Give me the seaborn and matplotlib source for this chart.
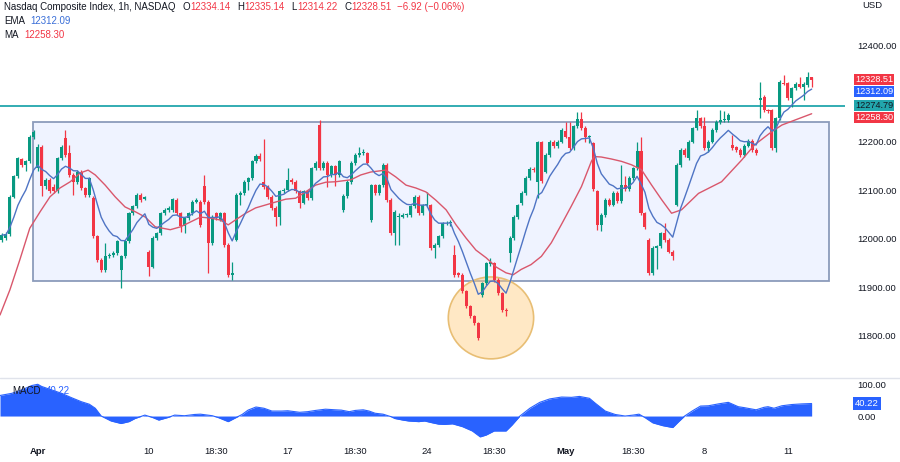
import numpy as np
import pandas as pd
import seaborn as sns
import matplotlib.pyplot as plt
from matplotlib.patches import Rectangle, Ellipse
from matplotlib.lines import Line2D
import matplotlib.transforms as mtransforms

# ----------------------
# Hourly candles, one row per bar
# ----------------------
opens = [
    11998, 12001, 12010, 12087, 12129, 12164, 12153, 12160, 12211, 12146,
    12190, 12109, 12122, 12108, 12098, 12166, 12208, 12177, 12132, 12118,
    12139, 12105, 12091, 12084, 12005, 11957, 11936, 11964, 11967, 11971,
    11936, 11964, 11995, 12053, 12067, 12091, 12083, 11974, 11943, 12001,
    12012, 12053, 12060, 12060, 12080, 12053, 12026, 12043, 12053, 12077,
    12077, 12109, 12077, 11991, 12053, 12040, 12053, 11988, 11926, 11998,
    12091, 12094, 12118, 12125, 12160, 12171, 12118, 12108, 12087, 12063,
    12046, 12098, 12101, 12122, 12118, 12098, 12075, 12098, 12084, 12146,
    12235, 12146, 12157, 12132, 12150, 12132, 12060, 12089, 12118, 12156,
    12173, 12177, 12177, 12039, 12111, 12094, 12111, 12153, 12081, 12012,
    12046, 12046, 12049, 12050, 12067, 12087, 12053, 12070, 12070, 11981,
    11988, 12005, 12032, 12032, 11967, 11929, 11926, 11892, 11861, 11840,
    11826, 11885, 11909, 11948, 11950, 11916, 11888, 11854, 11971, 12001,
    12046, 12074, 12095, 12126, 12144, 12117, 12199, 12139, 12174, 12201,
    12191, 12201, 12222, 12211, 12187, 12232, 12247, 12229, 12211, 12198,
    12098, 12029, 12050, 12081, 12071, 12095, 12078, 12112, 12102, 12126,
    12146, 12181, 12053, 11998, 11930, 11981, 11985, 12012, 11998, 11974,
    12071, 12153, 12184, 12166, 12201, 12228, 12249, 12232, 12187, 12201,
    12225, 12242, 12245, 12246, 12194, 12189, 12184, 12173, 12192, 12203,
    12184, 12287, 12293, 12266, 12266, 12187, 12249, 12322, 12321, 12290,
    12311, 12320, 12314, 12317, 12334.14,
]
closes = [
    12008, 12010, 12087, 12129, 12166, 12153, 12160, 12211, 12221, 12190,
    12109, 12122, 12098, 12098, 12166, 12190, 12173, 12132, 12118, 12139,
    12105, 12091, 12125, 12005, 11957, 11936, 11964, 11967, 11971, 11995,
    11964, 11995, 12053, 12067, 12091, 12081, 12086, 11943, 12001, 12012,
    12053, 12060, 12063, 12082, 12053, 12026, 12043, 12053, 12077, 12081,
    12029, 12077, 11991, 12046, 12043, 12053, 11988, 11926, 11929, 12091,
    12094, 12118, 12125, 12160, 12171, 12164, 12108, 12087, 12063, 12046,
    12098, 12101, 12122, 12118, 12098, 12075, 12098, 12084, 12146, 12156,
    12146, 12156, 12132, 12150, 12132, 12160, 12089, 12118, 12156, 12173,
    12177, 12180, 12156, 12111, 12094, 12111, 12153, 12081, 12012, 12056,
    12047, 12049, 12050, 12067, 12087, 12053, 12070, 12071, 11981, 11988,
    12005, 12032, 12033, 12035, 11926, 11926, 11892, 11861, 11840, 11826,
    11795, 11909, 11950, 11953, 11916, 11888, 11854, 11851, 12001, 12046,
    12070, 12095, 12126, 12144, 12142, 12199, 12119, 12174, 12201, 12191,
    12201, 12225, 12211, 12187, 12232, 12247, 12229, 12211, 12212, 12102,
    12029, 12050, 12081, 12071, 12095, 12078, 12112, 12102, 12126, 12146,
    12181, 12053, 12025, 11930, 11981, 11985, 12012, 11998, 11974, 11964,
    12153, 12184, 12174, 12201, 12228, 12249, 12232, 12187, 12201, 12225,
    12242, 12245, 12246, 12256, 12187, 12184, 12173, 12192, 12203, 12184,
    12178, 12290, 12266, 12263, 12187, 12249, 12324, 12320, 12290, 12311,
    12320, 12314, 12320, 12335, 12328.51,
]
highs = [
    12012, 12014, 12090, 12132, 12170, 12167, 12163, 12214, 12225, 12195,
    12194, 12126, 12125, 12113, 12169, 12194, 12225, 12194, 12135, 12142,
    12142, 12108, 12128, 12088, 12008, 11960, 11991, 11971, 11975, 11998,
    11967, 11998, 12056, 12070, 12094, 12094, 12089, 11977, 12005, 12015,
    12056, 12063, 12067, 12084, 12084, 12056, 12046, 12056, 12080, 12084,
    12080, 12132, 12080, 12050, 12056, 12056, 12056, 11991, 11953, 12094,
    12098, 12121, 12128, 12163, 12175, 12177, 12206, 12111, 12091, 12067,
    12101, 12105, 12146, 12125, 12122, 12101, 12101, 12101, 12149, 12160,
    12245, 12160, 12160, 12153, 12153, 12163, 12092, 12121, 12160, 12177,
    12190, 12186, 12180, 12114, 12114, 12114, 12156, 12156, 12084, 12060,
    12053, 12053, 12053, 12070, 12091, 12091, 12073, 12096, 12073, 11991,
    12008, 12035, 12036, 12039, 11988, 11932, 11929, 11895, 11864, 11843,
    11829, 11912, 11953, 11960, 11953, 11919, 11891, 11857, 12005, 12049,
    12073, 12098, 12129, 12148, 12148, 12202, 12203, 12177, 12205, 12204,
    12204, 12229, 12242, 12242, 12235, 12261, 12261, 12232, 12215, 12201,
    12101, 12053, 12084, 12084, 12098, 12098, 12153, 12129, 12129, 12149,
    12201, 12211, 12056, 12001, 11985, 11988, 12015, 12033, 12001, 11977,
    12156, 12187, 12187, 12204, 12231, 12266, 12252, 12252, 12204, 12228,
    12245, 12266, 12263, 12259, 12214, 12192, 12187, 12195, 12206, 12206,
    12187, 12324, 12296, 12269, 12269, 12252, 12327, 12338, 12324, 12314,
    12323, 12335, 12323, 12345, 12335.14,
]
lows = [
    11994, 11997, 12006, 12084, 12125, 12148, 12140, 12156, 12207, 12140,
    12089, 12103, 12094, 12095, 12095, 12162, 12170, 12128, 12091, 12114,
    12101, 12087, 12087, 12001, 11953, 11932, 11932, 11960, 11963, 11967,
    11898, 11960, 11991, 12049, 12063, 12077, 12080, 11923, 11940, 11998,
    12008, 12049, 12056, 12056, 12049, 12015, 12012, 12039, 12049, 12074,
    12025, 12073, 11929, 11988, 12039, 12036, 11984, 11922, 11916, 11995,
    12070, 12090, 12101, 12121, 12156, 12160, 12104, 12083, 12060, 12026,
    12029, 12094, 12098, 12114, 12094, 12063, 12072, 12080, 12080, 12142,
    12142, 12142, 12108, 12128, 12109, 12128, 12056, 12085, 12114, 12153,
    12170, 12173, 12153, 12035, 12090, 12090, 12108, 12077, 12008, 11988,
    11988, 12043, 12046, 12046, 12063, 12049, 12049, 12066, 11977, 11960,
    11984, 12001, 12028, 12026, 11922, 11922, 11888, 11857, 11836, 11822,
    11791, 11881, 11905, 11944, 11912, 11884, 11850, 11840, 11953, 11997,
    12042, 12070, 12091, 12122, 12139, 12084, 12115, 12135, 12170, 12187,
    12187, 12197, 12208, 12183, 12183, 12228, 12225, 12199, 12198, 12098,
    12019, 12016, 12046, 12067, 12067, 12074, 12074, 12098, 12098, 12122,
    12142, 12049, 12021, 11926, 11926, 11937, 11981, 11994, 11970, 11957,
    12067, 12149, 12170, 12162, 12197, 12225, 12228, 12183, 12180, 12197,
    12221, 12238, 12241, 12242, 12183, 12180, 12170, 12170, 12189, 12180,
    12174, 12249, 12262, 12259, 12183, 12180, 12245, 12317, 12287, 12273,
    12307, 12311, 12287, 12313, 12314.22,
]

# MA (bar index, value)
ma_bar = [-0.5, 2, 4.5, 7, 9.6, 12.1, 14.6, 17.2, 19.7, 21.7, 23.5, 26, 28.5, 31, 33.6,
          36.1, 38.6, 42.4, 45, 47.5, 50, 52.5, 55, 57, 58.8, 61.4, 63.9, 66.4, 68.9,
          71.5, 74, 76.5, 79, 81.6, 84.1, 87.9, 90.4, 92.9, 96.7, 99.2, 101.8, 104.3,
          106.8, 109.3, 111.9, 114.4, 116.9, 119.4, 122, 124.5, 127, 128.8, 130.8,
          133.3, 135.9, 138.4, 140.9, 143.4, 146, 148.5, 149.2, 151, 153.5, 156.1,
          158.6, 161.1, 163.6, 166.2, 168.7, 171.2, 175.5, 181.3, 186.4, 189.6,
          193.9, 196.5, 199.7, 204]
ma_val = [11843, 11895, 11957, 12022, 12056, 12087, 12105, 12118, 12136, 12142, 12132,
          12111, 12087, 12066, 12056, 12045, 12025, 12019, 12025, 12035, 12045, 12043,
          12039, 12029, 12039, 12053, 12064, 12070, 12076, 12082, 12084, 12097, 12111,
          12117, 12118, 12122, 12132, 12138, 12142, 12128, 12111, 12105, 12097, 12080,
          12060, 12029, 12002, 11977, 11961, 11942, 11930, 11926, 11937, 11947, 11964,
          11992, 12029, 12067, 12108, 12160, 12170, 12169, 12165, 12160, 12153, 12143,
          12112, 12081, 12053, 12060, 12094, 12118, 12163, 12194, 12221, 12235, 12245,
          12258.30]

# MACD (bar index, value)
macd_bar = [-0.5, 2.5, 5, 7.5, 9, 10, 12.5, 15, 17.5, 20, 22, 23.5, 25, 27.5, 30, 32,
            33.5, 36, 38, 39.5, 42, 43.5, 46, 48.5, 50, 53, 54.5, 57, 58.5, 60.5, 62,
            64, 66, 68, 70.5, 72, 75, 77, 79, 81.5, 84, 85.5, 87.5, 89, 91, 92.5, 94,
            96, 98, 99, 101, 102.5, 105, 106.5, 108.5, 110, 111.5, 113.5, 116, 118.5,
            120.5, 122, 124, 127, 128.5, 130.5, 133, 135.5, 138, 141, 143.5, 145.5,
            148, 149.5, 152, 154.5, 157, 159, 160.5, 162, 164, 166.5, 169, 170.5, 172,
            174, 176, 178, 180.5, 183, 185.5, 187, 190, 192, 193, 194.5, 196.5, 199,
            201.5, 204]
macd_val = [66, 73, 84, 98, 102, 95, 84, 73, 59, 46, 38, 25, 0, -16, -24, -18, -8, 3, -5,
            -13, -4, 3, 1, 5, 6, 1, -5, -18, -8, 5, 19, 29, 25, 16, 16, 17, 12, 14, 18,
            22, 20, 19, 14, 18, 20, 16, 9, 6, -2, -8, -13, -16, -18, -16, -22, -26, -27,
            -25, -34, -48, -67, -61, -48, -48, -29, 0, 25, 44, 55, 61, 60, 63, 57, 41,
            16, 5, 0, 3, 6, -5, -22, -31, -37, -18, 0, 17, 32, 33, 39, 44, 30, 27, 20,
            28, 30, 25, 33, 37, 39, 40.22]

tick_bars = [9, 37, 54, 72, 89, 107, 124, 142, 159, 177, 198]
tick_labels = ["Apr", "10", "18:30", "17", "18:30", "24", "18:30", "May", "18:30", "8", "11"]
price_ticks = [11800, 11900, 12000, 12100, 12200, 12400]  # 12300 sits under the tags

last_close = 12328.51
ema_last = 12312.09
ma_last = 12258.30
level = 12274.79
macd_last = 40.22

# colours
GREEN = "#089981"
RED = "#F23645"
BLUE = "#2962FF"
TEAL = "#22A6AD"
DARK = "#131722"

# ----------------------
# Build frame
# ----------------------
df = pd.DataFrame({"open": opens, "high": highs, "low": lows, "close": closes})
df["bar"] = np.arange(len(df))
df["ema"] = df["close"].ewm(span=9, adjust=False).mean()
up = df["close"] >= df["open"]
cols = np.where(up, GREEN, RED)

sns.set_theme(style="white")
plt.rcParams["font.family"] = ["Liberation Sans", "DejaVu Sans"]

W, H = 900, 462
fig = plt.figure(figsize=(9, 4.62), dpi=100)
ax = fig.add_axes([0, 1 - 378 / H, 845 / W, 378 / H])
axm = fig.add_axes([0, 22 / H, 845 / W, 61 / H], sharex=ax)

# ----------------------
# Price pane
# ----------------------
ax.add_patch(Rectangle((7.8, 11913), 208.3 - 7.8, 12241 - 11913,
                       facecolor=(0.16, 0.38, 1.0, 0.07),
                       edgecolor=(0.50, 0.57, 0.70, 0.9), lw=1.3, zorder=1))
ax.add_patch(Ellipse((123.2, 11837), 21.5, 169,
                     facecolor=(1.0, 0.80, 0.50, 0.45),
                     edgecolor="#E8BE74", lw=1.2, zorder=2))
ax.axhline(level, color=TEAL, lw=1.3, zorder=2)

ax.vlines(df["bar"], df["low"], df["high"], colors=cols, lw=0.9, zorder=3)
body = (df["close"] - df["open"]).abs().clip(lower=1.5)
ax.bar(df["bar"], body, bottom=df[["open", "close"]].min(axis=1), width=0.76,
       color=cols, linewidth=0, zorder=4)

sns.lineplot(x=ma_bar, y=ma_val, ax=ax, color="#D9576C", lw=1.0, zorder=5)
sns.lineplot(x=df["bar"], y=df["ema"], ax=ax, color="#4F74C4", lw=1.0, zorder=6)

ax.set_xlim(-0.5, 212.4)
ax.set_ylim(11713, 12493)
ax.yaxis.tick_right()
ax.set_yticks(price_ticks)
ax.set_yticklabels([f"{v:.2f}" for v in price_ticks])
ax.tick_params(axis="y", length=0, pad=9, labelsize=6.8, labelcolor=DARK)
ax.tick_params(axis="x", bottom=False, labelbottom=False)
ax.set_xlabel("")
ax.set_ylabel("")
for s in ax.spines.values():
    s.set_visible(False)

# price tags on the right, stacked so they do not collide
trans = mtransforms.blended_transform_factory(ax.transAxes, ax.transData)
tags = [(last_close, RED), (ema_last, BLUE), (level, TEAL), (ma_last, RED)]
prev = None
for val, c in tags:
    y = val if prev is None else min(val, prev - 25)
    prev = y
    ax.text(1.0118, y, f"{val:.2f}", transform=trans, color="white" if c != TEAL else DARK,
            fontsize=6.6, va="center", ha="left", clip_on=False, zorder=10,
            bbox=dict(boxstyle="square,pad=0.12", fc=c, ec="none"))

fig.text(862 / W, 1 - 6 / H, "USD", fontsize=6.8, color=DARK, va="center", ha="left")

# ----------------------
# MACD pane
# ----------------------
axm.fill_between(macd_bar, macd_val, 0, color=BLUE, lw=0, zorder=2)
sns.lineplot(x=macd_bar, y=macd_val, ax=axm, color=BLUE, lw=0.8, zorder=3)
axm.set_ylim(-77, 119)
axm.yaxis.tick_right()
axm.set_yticks([0, 100])
axm.set_yticklabels(["0.00", "100.00"])
axm.tick_params(axis="y", length=0, pad=9, labelsize=6.8, labelcolor=DARK)
axm.set_xticks(tick_bars)
axm.set_xticklabels(tick_labels)
axm.tick_params(axis="x", length=0, pad=5, labelsize=6.8, labelcolor=DARK)
for lab in axm.get_xticklabels():
    if lab.get_text() in ("Apr", "May"):
        lab.set_fontweight("bold")
axm.set_xlabel("")
axm.set_ylabel("")
for s in axm.spines.values():
    s.set_visible(False)
mtrans = mtransforms.blended_transform_factory(axm.transAxes, axm.transData)
axm.text(1.0118, macd_last, f"{macd_last:.2f}", transform=mtrans, color="white",
         fontsize=6.8, va="center", ha="left", clip_on=False,
         bbox=dict(boxstyle="square,pad=0.18", fc=BLUE, ec="none"))
t = axm.text(12 / 845, 0.80, "MACD", transform=axm.transAxes, fontsize=7.0,
             color=DARK, va="center", ha="left", zorder=5)
axm.annotate(f"{macd_last:.2f}", xy=(1, 0.5), xycoords=t, xytext=(4, 0),
             textcoords="offset points", fontsize=7.0, color=BLUE, va="center",
             ha="left", zorder=5)

# pane separator
fig.add_artist(Line2D([0, 1], [1 - 378 / H] * 2, color="#E0E3EB", lw=1))

# ----------------------
# Header legend (chained pieces so each value gets its own colour)
# ----------------------
def header(parts, y_px):
    last = None
    for txt, c, gap in parts:
        if last is None:
            last = fig.text(4 / W, 1 - y_px / H, txt, color=c, fontsize=7.0,
                            va="center", ha="left")
        else:
            last = ax.annotate(txt, xy=(1, 0.5), xycoords=last, xytext=(gap, 0),
                               textcoords="offset points", color=c, fontsize=7.0,
                               va="center", ha="left", annotation_clip=False)

header([("Nasdaq Composite Index, 1h, NASDAQ", DARK, 0),
        ("O", DARK, 5), ("12334.14", RED, 0),
        ("H", DARK, 5), ("12335.14", RED, 0),
        ("L", DARK, 5), ("12314.22", RED, 0),
        ("C", DARK, 5), ("12328.51", RED, 0),
        ("\u22126.92 (\u22120.06%)", RED, 4)], 7)
header([("EMA", DARK, 0), ("12312.09", "#3A6FD8", 4)], 21)
header([("MA", DARK, 0), ("12258.30", RED, 4)], 35)

fig.savefig("out.png", dpi=100, facecolor="white")
